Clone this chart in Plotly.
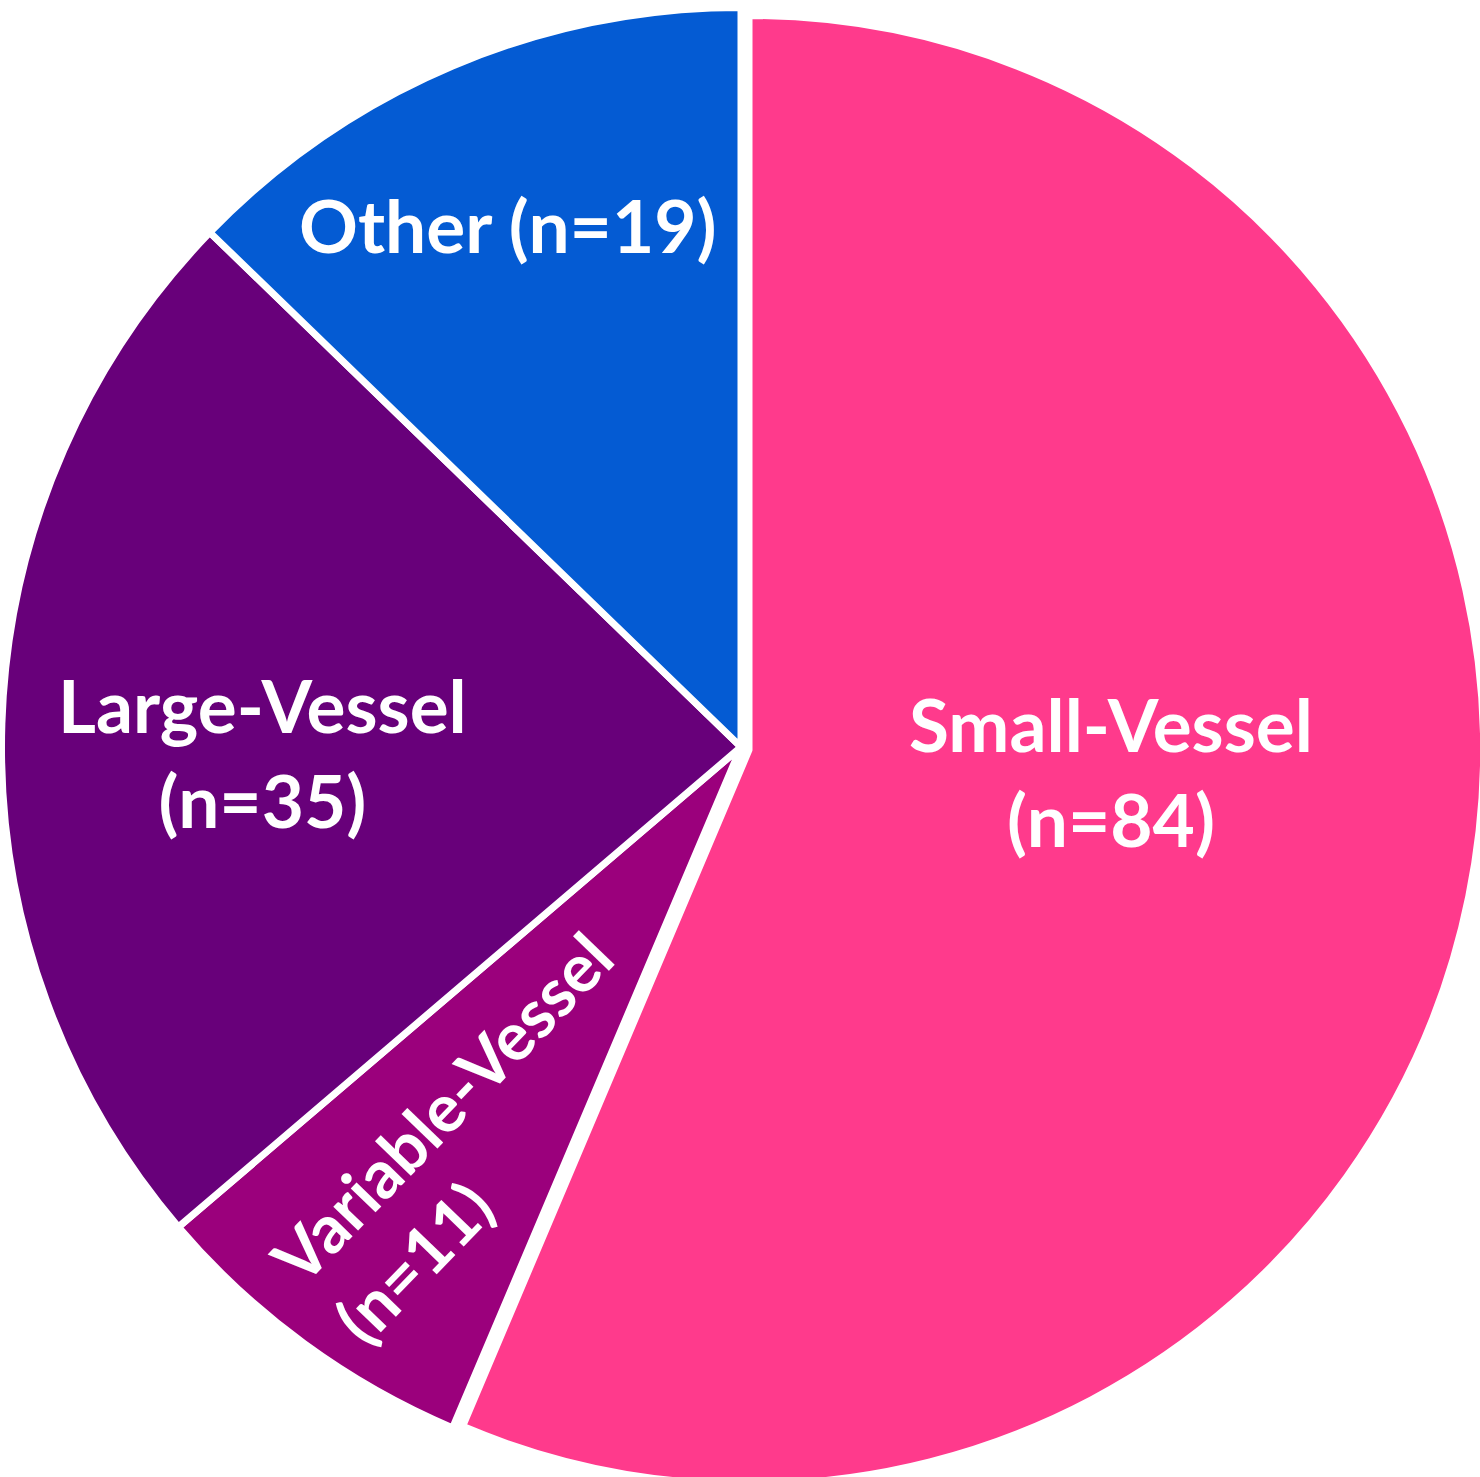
import plotly.graph_objects as go

# ---- data ----
categories = ["Small-Vessel", "Variable-Vessel", "Large-Vessel", "Other"]
counts = [84, 11, 35, 19]
colors = ["#FF3A8C", "#9B007C", "#68007A", "#045BD3"]

# ---- layout constants (pixels) ----
W, H = 1490, 1490          # figure is slightly larger than the window; page overflow hidden
LINE_W = 7
# main pie (Variable / Large / Other): centre and fill radius
MAIN_C, MAIN_R = (741, 747), 739.5
# exploded Small-Vessel slice: centre and fill radius
PULL_C, PULL_R = (749, 750), 734.5

TRANSPARENT = "rgba(0,0,0,0)"


def domain_for(center, r):
    cx, cy = center
    return dict(
        x=[(cx - r) / W, (cx + r) / W],
        y=[1 - (cy + r) / H, 1 - (cy - r) / H],
    )


# trace for the pulled-out Small-Vessel slice (rest of the circle invisible)
pulled_vals = [counts[0], sum(counts[1:])]
pulled = go.Pie(
    labels=[categories[0], "rest"],
    values=pulled_vals,
    sort=False,
    direction="clockwise",
    rotation=0,
    marker=dict(colors=[colors[0], TRANSPARENT],
                line=dict(color="white", width=[LINE_W, 0])),
    textinfo="none",
    hoverinfo="skip",
    showlegend=False,
    domain=domain_for(PULL_C, PULL_R),
)

# trace for the other three slices (Small-Vessel position kept transparent)
main = go.Pie(
    labels=categories,
    values=counts,
    sort=False,
    direction="clockwise",
    rotation=0,
    marker=dict(colors=[TRANSPARENT] + colors[1:],
                line=dict(color="white", width=[0] + [LINE_W] * 3)),
    textinfo="none",
    hoverinfo="label+value",
    showlegend=False,
    domain=domain_for(MAIN_C, MAIN_R),
)

fig = go.Figure([pulled, main])

# label placement (pixel centres, angle, alignment, font size, two lines?)
label_pos = {
    "Small-Vessel": (1111, 771, 0, "center", 73, True),
    "Large-Vessel": (262, 752, 0, "center", 73, True),
    "Other": (508, 225, 0, "center", 73, False),
    "Variable-Vessel": (472, 1137, -46, "left", 67, True),
}

annotations = []
for cat, n in zip(categories, counts):
    px, py, ang, align, fsize, two_lines = label_pos[cat]
    sep = "<br>" if two_lines else " "
    annotations.append(
        dict(
            x=px / W,
            y=1 - py / H,
            xref="paper",
            yref="paper",
            text=f"<b>{cat}{sep}(n={n})</b>",
            showarrow=False,
            font=dict(family="Lato, Carlito, Calibri, sans-serif", size=fsize, color="white"),
            textangle=ang,
            align=align,
            xanchor="center",
            yanchor="middle",
        )
    )

fig.update_layout(
    width=W,
    height=H,
    margin=dict(l=0, r=0, t=0, b=0),
    paper_bgcolor="white",
    plot_bgcolor="white",
    annotations=annotations,
)

fig.write_html(
    "out.html",
    config={"displayModeBar": False},
    post_script="document.body.style.margin='0';document.body.style.overflow='hidden';",
)
